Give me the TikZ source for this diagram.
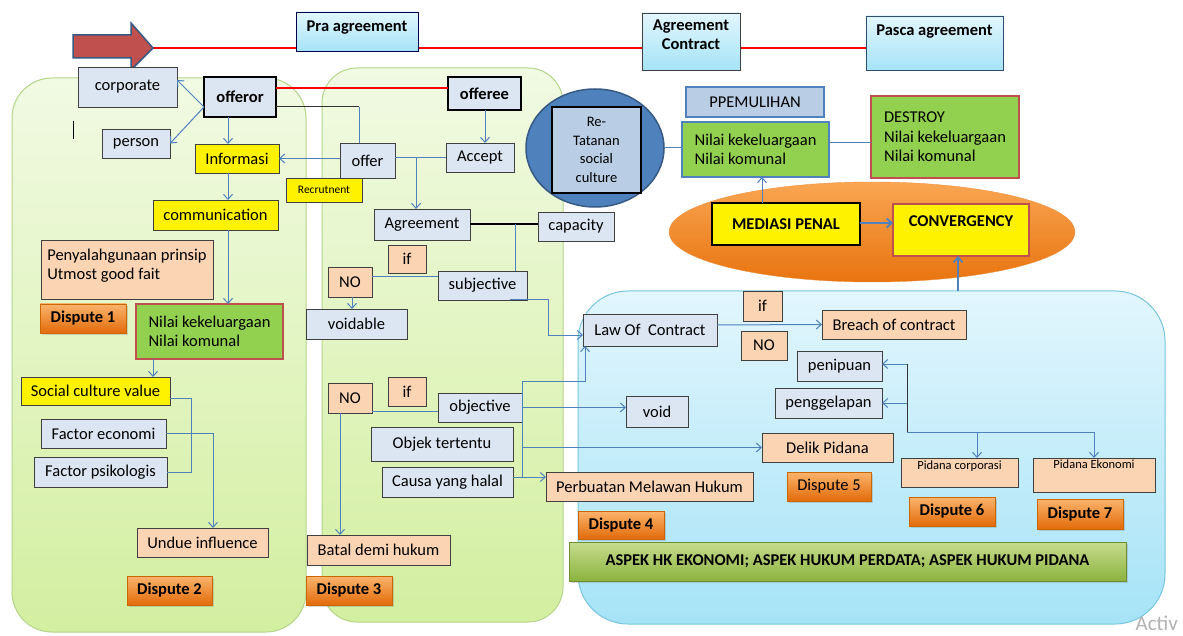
\documentclass[tikz,border=0pt]{standalone}
\usepackage{fontspec}
\setmainfont{Carlito}
\usetikzlibrary{arrows.meta,shadows,backgrounds,shapes.geometric}
\definecolor{boxblue}{HTML}{DCE6F2}
\definecolor{steel}{HTML}{B9CDE5}
\definecolor{peach}{HTML}{FBD4B4}
\definecolor{leaf}{HTML}{92D050}
\definecolor{brick}{HTML}{C0504D}
\definecolor{linkblue}{HTML}{4F81BD}
\definecolor{skytop}{HTML}{E2F6FD}
\definecolor{skybot}{HTML}{A6E3F7}
\definecolor{skyedge}{HTML}{78C6DE}
\definecolor{grntop}{HTML}{F1FAE3}
\definecolor{grnbot}{HTML}{D3EFA0}
\definecolor{grnedge}{HTML}{B5D58A}
\definecolor{ortop}{HTML}{FBB46C}
\definecolor{orbot}{HTML}{E26B0A}
\definecolor{ovaltop}{HTML}{F9A552}
\definecolor{ovalbot}{HTML}{E8740F}
\definecolor{aspectop}{HTML}{C6DC8E}
\definecolor{aspecbot}{HTML}{8CB33E}
\newcommand{\lblfont}{\fontsize{16.5}{19.5}\selectfont}

\begin{document}
\begin{tikzpicture}[x=1pt, y=-1pt,
    base/.style={draw=black!75, line width=0.9pt, inner sep=1pt, outer sep=0pt, font=\lblfont, align=center},
    gray box/.style={base, fill=boxblue},
    yel box/.style={base, fill=yellow},
    peach box/.style={base, fill=peach},
    nilai box/.style={base, fill=leaf, draw=brick, line width=1.5pt, align=left},
    dispute/.style={base, draw=orange!80!black, top color=ortop, bottom color=orbot, font=\lblfont\bfseries, drop shadow={opacity=0.3, shadow xshift=1.5pt, shadow yshift=-1.5pt}},
    phase/.style={base, draw=blue!30!black, top color=skytop, bottom color=skybot, font=\lblfont\bfseries},
    party/.style={gray box, line width=2pt, draw=black, font=\lblfont\bfseries},
    conn/.style={draw=linkblue, line width=1pt},
    arr/.style={conn, -{Straight Barb[length=5pt, width=9pt]}},
    redline/.style={draw=red, line width=2pt},
    wire/.style={draw=black!80, line width=1pt}
]
\useasboundingbox (0,0) rectangle (1183,636);

% panels
\draw[rounded corners=40pt, line width=1pt, draw=grnedge, top color=grntop, bottom color=grnbot] (12,78) rectangle (306,632);
\draw[rounded corners=35pt, line width=1pt, draw=grnedge, top color=grntop, bottom color=grnbot] (322,68) rectangle (563,622);
\draw[rounded corners=50pt, line width=1pt, draw=skyedge, top color=skytop, bottom color=skybot] (578,291) rectangle (1165,624);

% time line
\filldraw[fill=brick, draw=linkblue!70!black, line width=1.5pt] (73,35) -- (131,35) -- (131,23) -- (153,48) -- (131,70) -- (131,58) -- (73,58) -- cycle;
\coordinate (tip) at (153,48);
\node[phase, minimum width=122, minimum height=39, text depth=11pt] (pra) at (357,31.5) {Pra agreement};
\node[phase, draw=black!75, minimum width=98, minimum height=57, text depth=14pt] (agc) at (691,41.5) {Agreement\\Contract};
\node[phase, draw=linkblue!60!black, minimum width=137, minimum height=54, text depth=25pt] (pasca) at (934.5,43) {Pasca agreement};
\begin{scope}[on background layer]
    \fill[white] (0,0) rectangle (1183,636);
    \draw[redline] (tip) -- (tip -| pasca.west);
\end{scope}

% left panel
\node[gray box, minimum width=99, minimum height=40] (corp) at (127.5,87) {corporate};
\node[party, minimum width=72, minimum height=40] (offeror) at (240,97) {offeror};
\draw[line width=1.8pt] (73.5,121) -- (73.5,139);
\node[gray box, minimum width=68, minimum height=29] (person) at (136,143.5) {person};
\node[yel box, minimum width=84, minimum height=29] (info) at (237,158.5) {Informasi};
\node[yel box, minimum width=76, minimum height=24, font=\fontsize{11.5}{13}\selectfont] (recr) at (324,190) {Recrutnent};
\node[yel box, minimum width=125, minimum height=30] (comm) at (215.5,215) {communication};
\node[peach box, minimum width=172, minimum height=59, align=left, text depth=10pt] (penyal) at (127,269.5) {Penyalahgunaan prinsip\\Utmost good fait};
\node[dispute, minimum width=86, minimum height=29] (d1) at (83,318.5) {Dispute 1};
\node[nilai box, minimum width=147, minimum height=55] (nilaiL) at (209.5,331.5) {Nilai kekeluargaan\\Nilai komunal};
\node[yel box, minimum width=149, minimum height=28] (scv) at (95.5,391) {Social culture value};
\node[gray box, minimum width=125, minimum height=29] (feco) at (103.5,433.5) {Factor economi};
\node[gray box, minimum width=133, minimum height=30] (fpsi) at (100.5,472) {Factor psikologis};
\node[peach box, minimum width=131, minimum height=29] (undue) at (202.5,542.5) {Undue influence};
\node[dispute, minimum width=85, minimum height=29] (d2) at (169.5,590.5) {Dispute 2};

% middle panel
\node[party, minimum width=73, minimum height=33] (offeree) at (484.5,93.5) {offeree};
\node[gray box, minimum width=55, minimum height=35] (offer) at (367.5,160.5) {offer};
\node[gray box, minimum width=68, minimum height=29] (accept) at (480,157.5) {Accept};
\node[gray box, minimum width=96, minimum height=31] (agree) at (422,224.5) {Agreement};
\node[gray box, minimum width=76, minimum height=29] (capac) at (576,226.5) {capacity};
\node[peach box, minimum width=38, minimum height=28] (if1) at (407,259) {if};
\node[peach box, minimum width=44, minimum height=30] (no1) at (350,282) {NO};
\node[gray box, minimum width=89, minimum height=29] (subj) at (482.5,285.5) {subjective};
\node[gray box, minimum width=101, minimum height=30] (voidable) at (356.5,324) {voidable};
\node[peach box, minimum width=38, minimum height=29] (if2) at (407,391.5) {if};
\node[peach box, minimum width=44, minimum height=30] (no2) at (350,398) {NO};
\node[gray box, minimum width=84, minimum height=29] (obj) at (480,407.5) {objective};
\node[gray box, minimum width=142, minimum height=34] (objek) at (442,444) {Objek tertentu};
\node[gray box, minimum width=131, minimum height=30] (causa) at (447.5,482) {Causa yang halal};
\node[peach box, minimum width=143, minimum height=30] (batal) at (378.5,550) {Batal demi hukum};
\node[dispute, minimum width=86, minimum height=29] (d3) at (349,590.5) {Dispute 3};

% mediation
\node[ellipse, draw=linkblue!70!black, line width=1.5pt, fill=linkblue, minimum width=138, minimum height=118] (retat) at (595,148) {};
\node[base, fill=steel, draw=black, line width=1.2pt, minimum width=89, minimum height=86, font=\fontsize{14.5}{18.5}\selectfont] (retatbox) at (596.5,150) {Re-\\Tatanan\\social\\culture};
\node[base, fill=steel, draw=linkblue, line width=1.8pt, minimum width=138, minimum height=30] (ppem) at (755,102) {PPEMULIHAN};
\node[nilai box, draw=linkblue, minimum width=147, minimum height=55] (nilaiR) at (755.5,149.5) {Nilai kekeluargaan\\Nilai komunal};
\node[nilai box, minimum width=148, minimum height=82] (destroy) at (945,137) {DESTROY\\Nilai kekeluargaan\\Nilai komunal};
\node[ellipse, draw=ovalbot!80, top color=ovaltop, bottom color=ovalbot, minimum width=406, minimum height=100] (zone) at (872,232) {};
\node[base, fill=yellow, draw=black, line width=2pt, minimum width=148, minimum height=42, font=\lblfont\bfseries] (mediasi) at (786,224.5) {MEDIASI PENAL};
\node[base, fill=yellow, draw=brick, line width=1.5pt, minimum width=136, minimum height=52, text depth=17pt, font=\lblfont\bfseries] (conv) at (961,230) {CONVERGENCY};

% right panel
\node[peach box, minimum width=39, minimum height=30] (if3) at (762.5,306) {if};
\node[peach box, minimum width=46, minimum height=29] (no3) at (764,345.5) {NO};
\node[gray box, minimum width=134, minimum height=32] (law) at (650,330) {Law Of\ \ Contract};
\node[peach box, minimum width=144, minimum height=29] (breach) at (894,324.5) {Breach of contract};
\node[gray box, minimum width=85, minimum height=30] (penipuan) at (839.5,366) {penipuan};
\node[gray box, minimum width=107, minimum height=30] (penggel) at (828.5,403) {penggelapan};
\node[gray box, minimum width=62, minimum height=31] (void) at (657,411.5) {void};
\node[peach box, minimum width=131, minimum height=29] (delik) at (827.5,447.5) {Delik Pidana};
\node[peach box, minimum width=207, minimum height=29] (pmh) at (649.5,486.5) {Perbuatan Melawan Hukum};
\node[dispute, font=\lblfont, minimum width=84, minimum height=29] (d5) at (829,486.5) {Dispute 5};
\node[peach box, minimum width=117, minimum height=29, text depth=14pt, font=\fontsize{12.5}{14}\selectfont] (pcorp) at (959.5,472.5) {Pidana corporasi};
\node[peach box, minimum width=122, minimum height=34, text depth=21pt, font=\fontsize{12.5}{14}\selectfont] (peko) at (1094,475) {Pidana Ekonomi};
\node[dispute, minimum width=86, minimum height=28] (d4) at (621,525) {Dispute 4};
\node[dispute, minimum width=86, minimum height=29] (d6) at (952,511.5) {Dispute 6};
\node[dispute, minimum width=86, minimum height=30] (d7) at (1080,514) {Dispute 7};
\node[base, draw=aspecbot!80!black, top color=aspectop, bottom color=aspecbot, minimum width=557, minimum height=39, font=\lblfont\bfseries, drop shadow={opacity=0.3, shadow xshift=1.5pt, shadow yshift=-1.5pt}] (aspek) at (847.5,561.5) {ASPEK HK EKONOMI; ASPEK HUKUM PERDATA; ASPEK HUKUM PIDANA};
\node[font=\fontsize{21}{21}\selectfont, text=black!30, anchor=base east, inner sep=0pt] (wm) at (1178,630) {Activ};

% connectors left
\coordinate (bend) at (359,107);
\coordinate (colL) at (228,0);
\draw[arr] (offeror.west |- bend) -- ([yshift=7pt]corp.east);
\draw[arr] (offeror.west |- bend) -- (person.east);
\draw[wire] (offeror.east |- bend) -- (bend);
\draw[conn] (bend) -- (bend |- offer.north);
\draw[redline] (offeror.east |- 0,88) -- (offeree.west |- 0,88);
\draw[arr] (offer.west |- info.east) -- (info.east);
\draw[arr] (offeror.south -| colL) -- (info.north -| colL);
\draw[arr] (info.south -| colL) -- (comm.north -| colL);
\draw[arr] (comm.south -| colL) -- (nilaiL.north -| colL);
\draw[arr] (nilaiL.south -| 153,0) -- (scv.north -| 153,0);
\draw[conn] (scv.east) ++(0,7) -| (fpsi.east -| 191,0) -- (fpsi.east);
\draw[arr] (feco.east) -| ([xshift=10.5pt]undue.north);

% connectors middle
\draw[arr] (offeree.south -| 485,0) -- (accept.north -| 485,0);
\draw[conn] (offer.east |- accept.west) -- (accept.west);
\draw[arr] (accept.west -| 416,0) -- (agree.north -| 416,0);
\draw[line width=2pt] (agree.east) -- (agree.east -| capac.west);
\draw[conn] (agree.east -| 515,0) -- (subj.north -| 515,0);
\draw[conn] (no1.east |- 0,277) -- (subj.west |- 0,277);
\draw[arr] (no1.south -| 352,0) -- (voidable.north -| 352,0);
\draw[arr] (subj.south -| 510,0) -- ++(38,0) |- ([yshift=-5pt]law.west);
\draw[conn] (no2.east |- 0,411) -- (obj.west |- 0,411);
\draw[arr] (no2.south -| 340,0) -- (batal.north -| 340,0);
\draw[arr] (obj.east) -- (obj.east -| void.west);
\coordinate (fork) at (522,381);
\draw[arr] (fork) -| (law.south -| 585,0);
\draw[conn] (fork) -- (fork |- 0,477);
\draw[arr] (fork |- delik.west) -- (delik.west);
\draw[arr] (causa.east |- 0,477) -- (pmh.west |- 0,477);

% connectors right
\draw[conn] (retat.east) -- (nilaiR.west |- retat.east);
\draw[conn] (nilaiR.east |- 0,143) -- (destroy.west |- 0,143);
\draw[arr] (mediasi.north -| 762,0) -- (nilaiR.south -| 762,0);
\draw[arr, line width=1.8pt] (mediasi.east |- 0,223) -- (conv.west |- 0,223);
\coordinate (bluetop) at (958,291);
\draw[arr, line width=1.8pt] (bluetop) -- (bluetop |- conv.south);
\draw[arr] (law.east) ++(0,-5) -- (breach.west);
\coordinate (hub) at (907,432);
\draw[wire] (hub) -- (hub |- 0,364);
\draw[arr] (hub |- 0,364) -- (penipuan.east |- 0,364);
\draw[arr] (hub |- penggel.east) -- (penggel.east);
\draw[conn] (hub) -- (hub -| peko.north);
\draw[arr] (hub -| 977,0) -- (pcorp.north -| 977,0);
\draw[arr] (hub -| peko.north) -- (peko.north);
\end{tikzpicture}
\end{document}
